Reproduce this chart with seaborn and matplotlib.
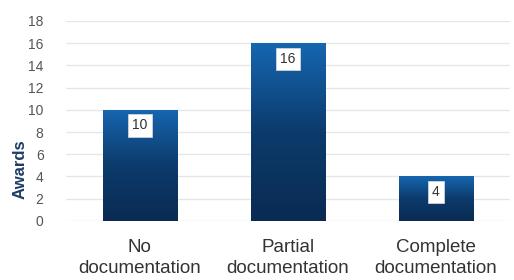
import matplotlib
matplotlib.use("Agg")
import matplotlib.pyplot as plt
import numpy as np
import pandas as pd
import seaborn as sns
from matplotlib.colors import LinearSegmentedColormap

categories = ["No\ndocumentation", "Partial\ndocumentation", "Complete\ndocumentation"]
awards = [10, 16, 4]
y_ticks = [0, 2, 4, 6, 8, 10, 12, 14, 16, 18]

sns.set_theme(style="white")
plt.rcParams["font.family"] = ["Liberation Sans", "DejaVu Sans"]

df = pd.DataFrame({"category": categories, "awards": awards})

fig = plt.figure(figsize=(5.14, 2.8), dpi=100)
ax = fig.add_axes([0.128, 0.211, 0.864, 0.714])

sns.barplot(data=df, x="category", y="awards", ax=ax, width=0.5,
            color="#0d3f73", saturation=1, zorder=2)

# vertical gradient inside each bar
grad = LinearSegmentedColormap.from_list("bar", ["#0a2b52", "#0c3b6c", "#1666b0"])
g = np.linspace(0, 1, 256).reshape(-1, 1)
for bar in ax.patches:
    x0, w, h = bar.get_x(), bar.get_width(), bar.get_height()
    im = ax.imshow(g, cmap=grad, aspect="auto", origin="lower",
                   extent=[x0, x0 + w, 0, h], zorder=3)
    im.set_clip_path(bar)
    ax.text(x0 + w / 2, h - 1.4, f"{int(h)}", ha="center", va="center",
            fontsize=10, color="#333333", zorder=4,
            bbox=dict(boxstyle="square,pad=0.3", fc="white", ec="#dddddd", lw=0.5))

ax.set_xlim(-0.5, 2.5)
ax.set_ylim(0, 18)
ax.set_yticks(y_ticks)
ax.yaxis.grid(True, color="#e6e6e6", lw=1, zorder=0)
for s in ax.spines.values():
    s.set_visible(False)
ax.tick_params(axis="y", length=0, labelsize=10, labelcolor="#555555", pad=16)
ax.tick_params(axis="x", length=0, labelsize=13.5, labelcolor="#333333", pad=13)
for lbl in ax.get_xticklabels():
    lbl.set_linespacing(1.3)
ax.set_xlabel("")
ax.set_ylabel("Awards", fontsize=12, fontweight="bold", color="#1d3c66")
ax.yaxis.set_label_coords(-0.085, 0.26)

fig.savefig("out.png", dpi=100)
